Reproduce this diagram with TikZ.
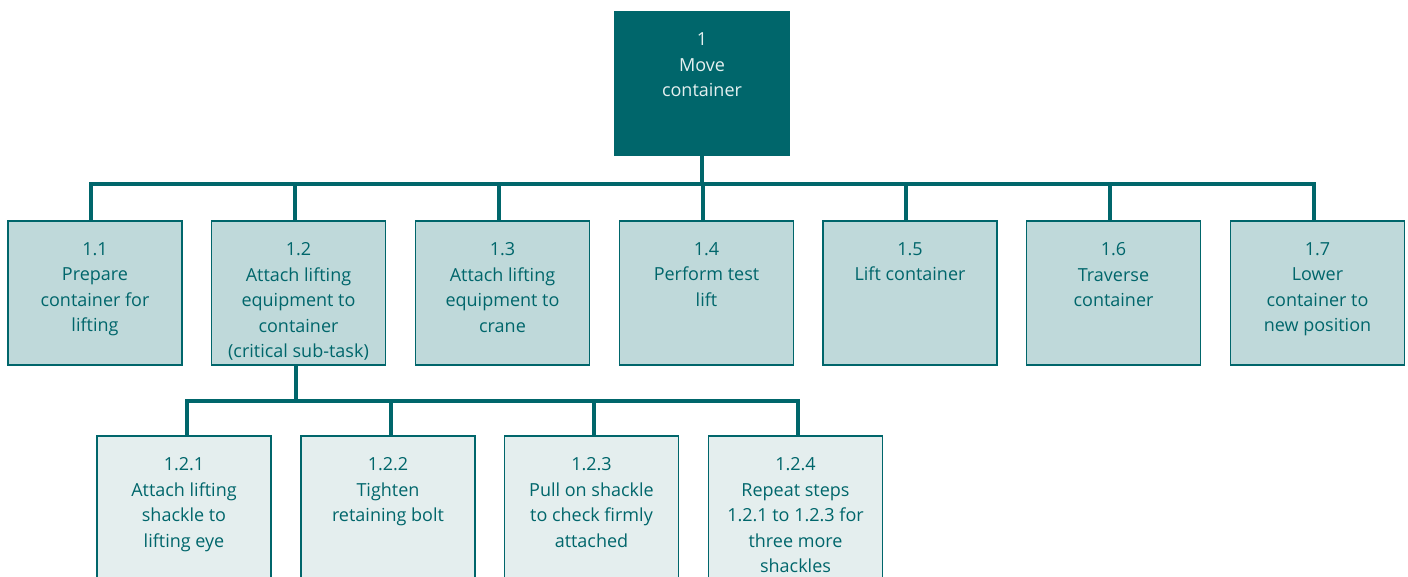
\documentclass[tikz,border=0pt]{standalone}
\usepackage{fontspec}
\setmainfont{Open Sans}
\usetikzlibrary{calc, positioning}
\definecolor{darkteal}{RGB}{0,102,107}
\definecolor{paleteal}{RGB}{191,217,218}
\definecolor{mistteal}{RGB}{228,238,238}
% box contents: text set from the top of a fixed height box
\newcommand\cell[1]{\begin{minipage}[c][144pt][t]{174pt}\vspace*{21.5pt}\centering\fontsize{18pt}{25.5pt}\selectfont #1\end{minipage}}

\begin{document}
\begin{tikzpicture}[x=1pt, y=-1pt,
  task/.style={draw=darkteal, line width=1.2pt, inner sep=0pt, text=darkteal},
  topbox/.style={task, fill=darkteal, text=white!90!darkteal},
  lvlone/.style={task, fill=paleteal},
  lvltwo/.style={task, fill=mistteal},
  link/.style={draw=darkteal, line width=4pt}]
\useasboundingbox (0,0) rectangle (1408,576);

\node[topbox] (move) at (702,83.5) {\cell{1\\Move\\container}};

\node[lvlone] (t11) at (95,293) {\cell{1.1\\Prepare\\container for\\lifting}};
\node[lvlone] (t12) at (298.5,293) {\cell{1.2\\Attach lifting\\equipment to\\container\\(critical sub-task)}};
\node[lvlone] (t13) at (502.5,293) {\cell{1.3\\Attach lifting\\equipment to\\crane}};
\node[lvlone] (t14) at (706.5,293) {\cell{1.4\\Perform test\\lift}};
\node[lvlone] (t15) at (910,293) {\cell{1.5\\Lift container}};
\node[lvlone] (t16) at (1113.5,293) {\cell{1.6\\Traverse\\container}};
\node[lvlone] (t17) at (1317.5,293) {\cell{1.7\\Lower\\container to\\new position}};

\node[lvltwo] (t121) at (184,508) {\cell{1.2.1\\Attach lifting\\shackle to\\lifting eye}};
\node[lvltwo] (t122) at (388,508) {\cell{1.2.2\\Tighten\\retaining bolt}};
\node[lvltwo] (t123) at (591.5,508) {\cell{1.2.3\\Pull on shackle\\to check firmly\\attached}};
\node[lvltwo] (t124) at (795.5,508) {\cell{1.2.4\\Repeat steps\\1.2.1 to 1.2.3 for\\three more\\shackles}};

% bus lines
\coordinate (busa) at (0,184);
\coordinate (busb) at (0,401);
\foreach \n in {t11,t12,t13,t14,t15,t16,t17}
  \draw[link] (move.south) -- (move.south |- busa) -| ([xshift=-4pt]\n.north);
\foreach \n in {t121,t122,t123,t124}
  \draw[link] ([xshift=-3pt]t12.south) -- ([xshift=-3pt]t12.south |- busb) -| ([xshift=2.5pt]\n.north);
\end{tikzpicture}
\end{document}
